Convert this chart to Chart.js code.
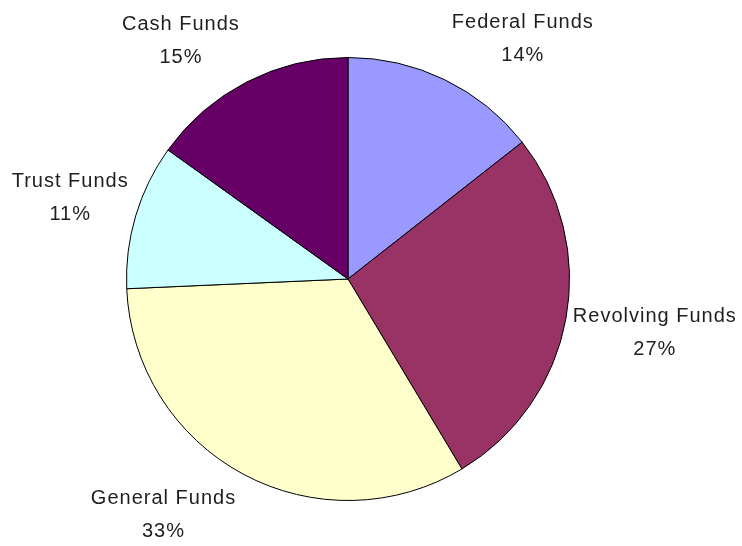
<!DOCTYPE html>
<html>
<head>
<meta charset="utf-8">
<script src="https://cdn.jsdelivr.net/npm/chart.js@4"></script>
<style>
  body { margin: 0; background: #fff; }
  canvas { display: block; }
</style>
</head>
<body>
<canvas id="fundsChart" width="742" height="546"></canvas>
<script>
// fund shares, clockwise from 12 o'clock
const funds = ["Federal Funds", "Revolving Funds", "General Funds", "Trust Funds", "Cash Funds"];
const shares = [14.4, 27.0, 32.9, 10.6, 15.1]; // slice sizes
const percentLabels = ["14%", "27%", "33%", "11%", "15%"];
const colors = ["#9999ff", "#993366", "#ffffcc", "#ccffff", "#660066"];

// labels outside the pie, two lines: name + percent (excel-ish placement)
const outsideLabels = {
  id: "outsideLabels",
  afterDatasetsDraw(chart) {
    const ctx = chart.ctx;
    const meta = chart.getDatasetMeta(0);
    const lineH = 33;
    ctx.save();
    ctx.font = "20px 'Liberation Sans', Arial, sans-serif";
    ctx.letterSpacing = "1px";
    ctx.fillStyle = "#1e1e1e";
    ctx.textAlign = "center";
    ctx.textBaseline = "middle";
    meta.data.forEach((arc, i) => {
      const mid = (arc.startAngle + arc.endAngle) / 2;
      const dx = Math.cos(mid);
      const dy = Math.sin(mid);
      const w = ctx.measureText(funds[i]).width;
      const px = arc.x + arc.outerRadius * dx;
      const py = arc.y + arc.outerRadius * dy;
      const cx = px + Math.sign(dx) * (w / 2 + 7);
      const cy = py + dy * 38 + Math.sign(dy) * 7;
      ctx.fillText(funds[i], cx, cy - lineH / 2);
      ctx.fillText(percentLabels[i], cx, cy + lineH / 2);
    });
    ctx.restore();
  }
};

new Chart(document.getElementById("fundsChart"), {
  type: "pie",
  data: {
    labels: funds,
    datasets: [
      {
        data: shares,
        backgroundColor: colors,
        borderColor: "#000",
        borderWidth: 1,
      },
    ],
  },
  options: {
    responsive: false,
    animation: false,
    events: [],
    layout: { padding: { left: 126, right: 172, top: 57, bottom: 45 } },
    plugins: {
      legend: { display: false },
      tooltip: { enabled: false },
    },
  },
  plugins: [outsideLabels],
});
</script>
</body>
</html>
